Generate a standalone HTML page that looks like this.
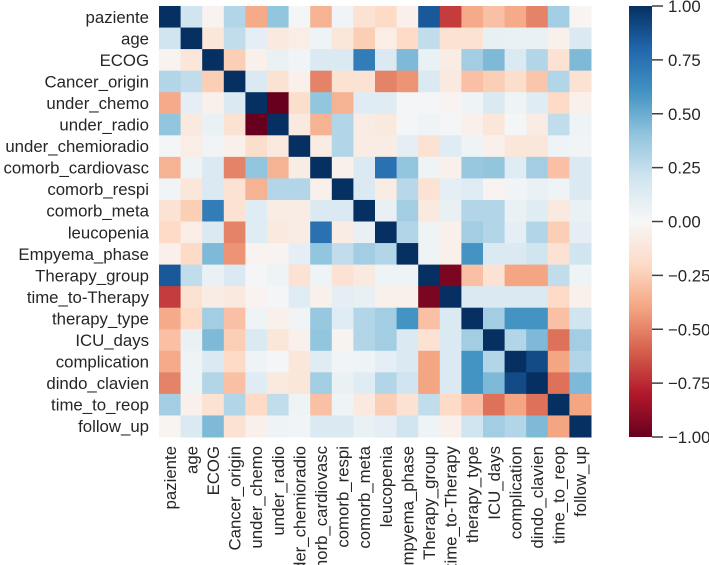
<!DOCTYPE html>
<html><head><meta charset="utf-8"><style>
html,body{margin:0;padding:0;background:#fff;}
svg{display:block;font-family:"Liberation Sans",Arial,sans-serif;}
</style></head><body>
<svg id="chart" width="709" height="565" viewBox="0 0 709 565" xmlns="http://www.w3.org/2000/svg">
<defs>
<linearGradient id="cbar" x1="0" y1="1" x2="0" y2="0">
<stop offset="0" stop-color="#67001f"/><stop offset="0.1" stop-color="#b2182b"/><stop offset="0.2" stop-color="#d6604d"/><stop offset="0.3" stop-color="#f4a582"/><stop offset="0.4" stop-color="#fddbc7"/><stop offset="0.5" stop-color="#f7f7f7"/><stop offset="0.6" stop-color="#d1e5f0"/><stop offset="0.7" stop-color="#92c5de"/><stop offset="0.8" stop-color="#4393c3"/><stop offset="0.9" stop-color="#2166ac"/><stop offset="1" stop-color="#053061"/>
</linearGradient>
</defs>
<g id="cells"></g>
<g id="ylabels"></g>
<g id="xlabels"></g>
<g id="colorbar">
<rect x="629" y="6" width="23" height="431" fill="url(#cbar)"/>
</g>
</svg>
<script>
const variables = ["paziente","age","ECOG","Cancer_origin","under_chemo","under_radio","under_chemioradio","comorb_cardiovasc","comorb_respi","comorb_meta","leucopenia","Empyema_phase","Therapy_group","time_to-Therapy","therapy_type","ICU_days","complication","dindo_clavien","time_to_reop","follow_up"];
const corrValues = [
[1,0.2,-0.03,0.3,-0.38,0.4,0.02,-0.35,0.03,-0.15,-0.2,-0.05,0.85,-0.7,-0.38,-0.3,-0.38,-0.5,0.35,-0.02],
[0.2,1,-0.12,0.25,0.1,-0.1,-0.07,0.05,-0.12,-0.25,-0.07,-0.2,0.25,-0.15,-0.15,0.08,0.07,0.07,-0.05,0.15],
[-0.03,-0.12,1,-0.25,-0.05,0.07,0.03,0.15,0.15,0.7,0.15,0.45,0.07,-0.08,0.35,0.45,0.15,0.3,-0.15,0.45],
[0.3,0.25,-0.25,1,0.15,-0.15,-0.05,-0.5,-0.15,-0.15,-0.5,-0.45,0.15,-0.1,-0.3,-0.25,-0.18,-0.28,0.3,-0.15],
[-0.38,0.1,-0.05,0.15,1,-1,-0.18,0.4,-0.35,0.12,0.12,0.02,0.02,-0.03,0.05,0.15,0.05,0.12,-0.2,-0.05],
[0.4,-0.1,0.07,-0.15,-1,1,-0.1,-0.35,0.3,-0.08,-0.1,0.02,0.05,0.02,-0.05,-0.12,0.02,-0.08,0.25,0.05],
[0.02,-0.07,0.03,-0.05,-0.18,-0.1,1,-0.08,0.3,-0.08,-0.08,0.1,-0.15,0.12,0.05,-0.05,-0.12,-0.12,0.05,0.03],
[-0.35,0.05,0.15,-0.5,0.4,-0.35,-0.08,1,-0.05,0.15,0.75,0.4,0.05,-0.05,0.38,0.4,0.12,0.35,-0.3,0.15],
[0.03,-0.12,0.15,-0.15,-0.35,0.3,0.3,-0.05,1,0.15,-0.08,0.28,-0.15,0.1,0.12,-0.03,0.03,0.07,0.05,0.15],
[-0.15,-0.25,0.7,-0.15,0.12,-0.08,-0.08,0.15,0.15,1,0.08,0.35,-0.1,0.08,0.3,0.3,0.07,0.12,-0.1,0.07],
[-0.2,-0.07,0.15,-0.5,0.12,-0.1,-0.08,0.75,-0.08,0.08,1,0.3,0.05,-0.05,0.35,0.3,0.1,0.3,-0.25,0.1],
[-0.05,-0.2,0.45,-0.45,-0.03,-0.03,0.1,0.4,0.25,0.35,0.3,1,0.05,-0.05,0.6,0.15,0.15,0.2,-0.15,0.2],
[0.85,0.25,0.07,0.15,0.02,0.05,-0.15,0.05,-0.15,-0.1,0.05,0.05,1,-0.95,-0.3,-0.15,-0.4,-0.4,0.25,0.05],
[-0.7,-0.15,-0.08,-0.1,-0.03,0.02,0.12,-0.05,0.1,0.08,-0.05,-0.05,-0.95,1,0.15,0.15,0.15,0.15,-0.2,-0.05],
[-0.38,-0.2,0.35,-0.3,0.05,-0.05,0.03,0.38,0.12,0.3,0.35,0.6,-0.3,0.15,1,0.35,0.6,0.6,-0.3,0.2],
[-0.3,0.07,0.45,-0.25,0.15,-0.12,-0.05,0.4,-0.03,0.3,0.35,0.15,-0.15,0.15,0.35,1,0.3,0.45,-0.55,0.35],
[-0.38,0.05,0.15,-0.2,0.05,0.02,-0.12,0.12,0.03,0.05,0.1,0.15,-0.4,0.15,0.6,0.3,1,0.9,-0.4,0.3],
[-0.5,0.05,0.3,-0.3,0.12,-0.1,-0.12,0.35,0.07,0.12,0.3,0.2,-0.4,0.15,0.6,0.45,0.9,1,-0.55,0.45],
[0.35,-0.05,-0.15,0.3,-0.2,0.25,0.05,-0.3,0.05,-0.1,-0.25,-0.15,0.25,-0.2,-0.3,-0.55,-0.4,-0.55,1,-0.4],
[-0.02,0.15,0.45,-0.15,-0.05,0.05,0.03,0.15,0.15,0.07,0.1,0.2,0.05,-0.05,0.2,0.35,0.3,0.45,-0.4,1]
];
const colorbarTicks = [1.00,0.75,0.50,0.25,0.00,-0.25,-0.50,-0.75,-1.00];

const NS = "http://www.w3.org/2000/svg";
const X0 = 159, X1 = 591, Y0 = 6, Y1 = 437;
const n = variables.length;
const cw = (X1 - X0) / n, ch = (Y1 - Y0) / n;
const xPos = i => X0 + i * cw;
const yPos = i => Y0 + i * ch;
const cbY = v => Y0 + (1 - v) / 2 * (Y1 - Y0);
const stops = ["#67001f","#b2182b","#d6604d","#f4a582","#fddbc7","#f7f7f7","#d1e5f0","#92c5de","#4393c3","#2166ac","#053061"];
function hex(h){return [1,3,5].map(k=>parseInt(h.substr(k,2),16));}
function color(v){
  let t = (Math.max(-1,Math.min(1,v)) + 1) / 2 * 10;
  let i = Math.min(9, Math.floor(t)), f = t - i;
  const a = hex(stops[i]), b = hex(stops[i+1]);
  return "rgb(" + a.map((c,k)=>Math.round(c + (b[k]-c)*f)).join(",") + ")";
}
const cells = document.getElementById("cells");
for (let r = 0; r < n; r++) {
  for (let c = 0; c < n; c++) {
    const el = document.createElementNS(NS, "rect");
    el.setAttribute("x", xPos(c));
    el.setAttribute("y", yPos(r));
    el.setAttribute("width", cw + 0.5);
    el.setAttribute("height", ch + 0.5);
    el.setAttribute("fill", color(corrValues[r][c]));
    
    
    cells.appendChild(el);
  }
}
const yl = document.getElementById("ylabels");
const xl = document.getElementById("xlabels");
variables.forEach((name, i) => {
  const t = document.createElementNS(NS, "text");
  t.setAttribute("x", 149);
  t.setAttribute("y", yPos(i) + ch / 2 + 6);
  t.setAttribute("text-anchor", "end");
  t.setAttribute("font-size", "16.8");
  t.setAttribute("fill", "#262626");
  t.textContent = name;
  
  
  yl.appendChild(t);
  const u = document.createElementNS(NS, "text");
  const cx = xPos(i) + cw / 2 + 6, cy = 446;
  u.setAttribute("x", cx);
  u.setAttribute("y", cy);
  u.setAttribute("transform", "rotate(-90 " + cx + " " + cy + ")");
  u.setAttribute("text-anchor", "end");
  u.setAttribute("font-size", "16.8");
  u.setAttribute("fill", "#262626");
  u.textContent = name;
  
  
  xl.appendChild(u);
});
const cb = document.getElementById("colorbar");
colorbarTicks.forEach(v => {
  const y = cbY(v);
  const l = document.createElementNS(NS, "line");
  l.setAttribute("x1", 652); l.setAttribute("x2", 663);
  l.setAttribute("y1", y); l.setAttribute("y2", y);
  l.setAttribute("stroke", "#404040"); l.setAttribute("stroke-width", "1.5");
  
  
  cb.appendChild(l);
  const t = document.createElementNS(NS, "text");
  t.setAttribute("x", 668);
  t.setAttribute("y", y + 6);
  t.setAttribute("font-size", "16.8");
  t.setAttribute("fill", "#262626");
  t.textContent = (v < 0 ? "\u2212" + Math.abs(v).toFixed(2) : v.toFixed(2));
  
  
  cb.appendChild(t);
});
</script>
</body></html>
